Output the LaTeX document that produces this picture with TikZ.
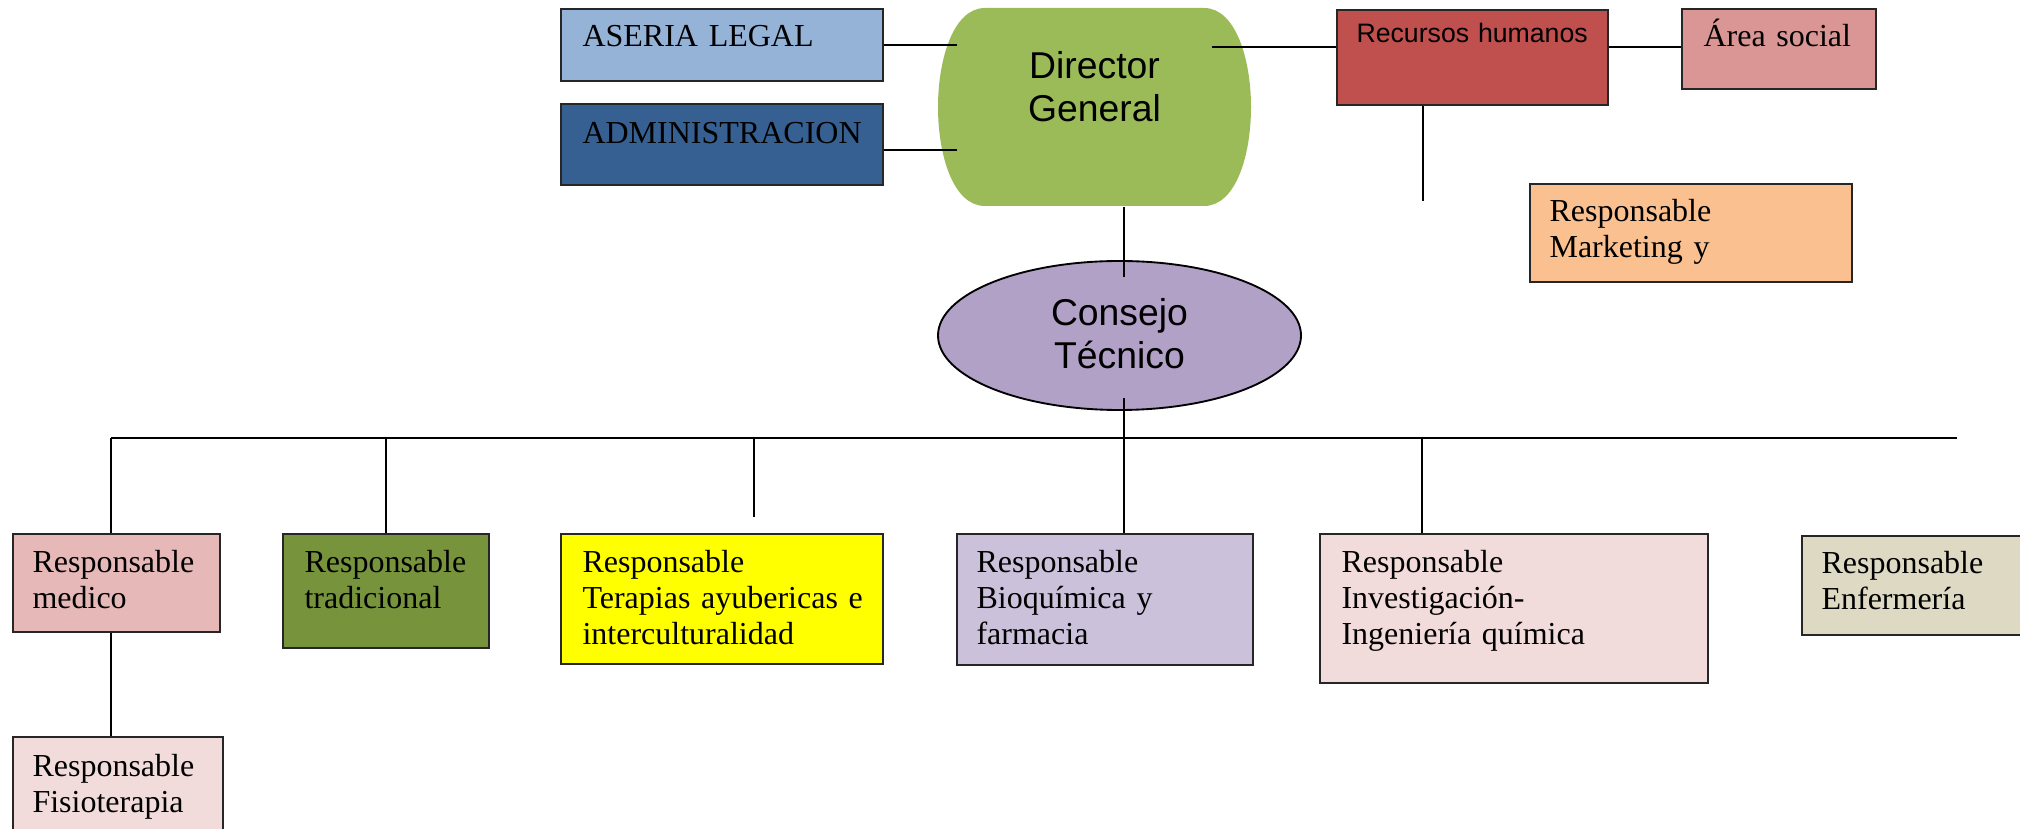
\documentclass[tikz,border=0pt]{standalone}
\usepackage{fontspec}
\setmainfont{Liberation Serif}
\newfontfamily\arialfont{Liberation Sans}
\usetikzlibrary{shapes.geometric,calc}

\newlength{\pxu}
\setlength{\pxu}{0.375pt}

\definecolor{azulclaro}{HTML}{95B3D7}
\definecolor{azuloscuro}{HTML}{366092}
\definecolor{verdedir}{HTML}{9BBB59}
\definecolor{rojorh}{HTML}{C0504D}
\definecolor{rosasocial}{HTML}{D99694}
\definecolor{naranja}{HTML}{FAC090}
\definecolor{lila}{HTML}{B2A1C7}
\definecolor{rosamedico}{HTML}{E6B9B8}
\definecolor{oliva}{HTML}{77933C}
\definecolor{amarillo}{HTML}{FFFF00}
\definecolor{lilaclaro}{HTML}{CCC1DA}
\definecolor{rosaclaro}{HTML}{F2DCDB}
\definecolor{beige}{HTML}{DDD9C3}

\tikzset{
	orgbox/.style={draw=black!85, line width=0.6pt, anchor=north west, inner sep=0},
	boxtext/.style={anchor=base west, inner sep=0, text width=330\pxu, align=left, font=\fontsize{12}{13.5}\selectfont},
	bigtext/.style={anchor=base, inner sep=0, text width=220\pxu, align=center, font=\arialfont\fontsize{14}{16}\selectfont},
	link/.style={line width=0.65pt},
	bar/.style={line width=0.9pt}
}

\begin{document}
\begin{tikzpicture}[x=0.375pt, y=-0.375pt]
		
		\useasboundingbox (0,0) rectangle (2020,829);
		
		% direccion
		\fill[verdedir] (985,8) -- (1204,8) .. controls (1236,8) and (1251,60) .. (1251,107)
			.. controls (1251,155) and (1236,206) .. (1204,206) -- (985,206)
			.. controls (953,206) and (938,155) .. (938,107)
			.. controls (938,60) and (953,8) .. (985,8) -- cycle;
		\node[minimum width=313\pxu, minimum height=198\pxu, inner sep=0] (director) at (1094.5,107) {};
		\node[bigtext] (director-t) at ([yshift=28\pxu]director.center) {Director\\General};
		
		\node[ellipse, draw, line width=0.7pt, fill=lila, minimum width=363\pxu, minimum height=149\pxu, inner sep=0] (consejo) at (1119.5,335.5) {};
		\node[bigtext] (consejo-t) at ([yshift=9.5\pxu]consejo.center) {Consejo\\Técnico};
		
		% staff
		\node[orgbox, fill=azulclaro, minimum width=322\pxu, minimum height=72\pxu] (aseria) at (560,8) {};
		\node[boxtext] (aseria-t) at ([shift={(22,39)}]aseria.north west) {ASERIA LEGAL};
		\node[orgbox, fill=azuloscuro, minimum width=322\pxu, minimum height=81\pxu] (admin) at (560,103) {};
		\node[boxtext] (admin-t) at ([shift={(22,41)}]admin.north west) {ADMINISTRACION};
		
		\node[orgbox, fill=rojorh, minimum width=271\pxu, minimum height=95\pxu] (rh) at (1336,9) {};
		\node[boxtext, font=\arialfont\fontsize{10}{12}\selectfont] (rh-t) at ([shift={(20,34)}]rh.north west) {Recursos humanos};
		\node[orgbox, fill=rosasocial, minimum width=194\pxu, minimum height=80\pxu] (social) at (1681,8) {};
		\node[boxtext] (social-t) at ([shift={(22,39)}]social.north west) {Área social};
		\node[orgbox, fill=naranja, minimum width=322\pxu, minimum height=98\pxu] (market) at (1529,183) {};
		\node[boxtext] (market-t) at ([shift={(20,39)}]market.north west) {Responsable\\Marketing y};
		
		% responsables
		\node[orgbox, fill=rosamedico, minimum width=207\pxu, minimum height=98\pxu] (medico) at (12,533) {};
		\node[boxtext] (medico-t) at ([shift={(20,40)}]medico.north west) {Responsable\\medico};
		\node[orgbox, fill=oliva, minimum width=206\pxu, minimum height=114\pxu] (trad) at (282,533) {};
		\node[boxtext] (trad-t) at ([shift={(22,40)}]trad.north west) {Responsable\\tradicional};
		\node[orgbox, fill=amarillo, minimum width=322\pxu, minimum height=130\pxu] (terap) at (560,533) {};
		\node[boxtext] (terap-t) at ([shift={(22,40)}]terap.north west) {Responsable\\Terapias ayubericas e\\interculturalidad};
		\node[orgbox, fill=lilaclaro, minimum width=296\pxu, minimum height=131\pxu] (bioq) at (956,533) {};
		\node[boxtext] (bioq-t) at ([shift={(20,40)}]bioq.north west) {Responsable\\Bioquímica y\\farmacia};
		\node[orgbox, fill=rosaclaro, minimum width=388\pxu, minimum height=149\pxu] (inv) at (1319,533) {};
		\node[boxtext] (inv-t) at ([shift={(22,40)}]inv.north west) {Responsable\\Investigación-\\Ingeniería química};
		\node[orgbox, fill=beige, minimum width=260\pxu, minimum height=99\pxu] (enf) at (1801,535) {};
		\node[boxtext] (enf-t) at ([shift={(20,39)}]enf.north west) {Responsable\\Enfermería};
		\node[orgbox, fill=rosaclaro, minimum width=210\pxu, minimum height=120\pxu] (fisio) at (12,736) {};
		\node[boxtext] (fisio-t) at ([shift={(20,40)}]fisio.north west) {Responsable\\Fisioterapia};
		
		% lineas
		\coordinate (barL) at (111,438);
		\coordinate (barR) at (1957,438);
		\coordinate (dirL) at (957,107);
		\coordinate (rhstub) at (1423,201);
		\coordinate (terstub) at (754,517);
		\coordinate (invtop) at (1422,533);
		\coordinate (eje) at (1124,335);
		
		\draw[link] (aseria.east) -- (aseria.east -| dirL);
		\draw[link] ([yshift=-6\pxu]admin.east) -- ([yshift=-6\pxu]admin.east -| dirL);
		\draw[link] ([yshift=10\pxu]rh.west -| director.east) ++(-40,0) -- ([yshift=10\pxu]rh.west);
		\draw[link] ([yshift=10\pxu]rh.east) -- ([yshift=10\pxu]rh.east -| social.west);
		\draw[link] (rhstub |- rh.south) -- (rhstub);
		\draw[link] (director.south -| eje) -- ([yshift=-17\pxu]consejo.north -| eje);
		\draw[link] ([yshift=13\pxu]consejo.south -| eje) -- (eje |- bioq.north);
		\draw[bar] (barL) -- (barR);
		\draw[link] (barL) -- (barL |- medico.north);
		\draw[link] (trad.north |- barL) -- (trad.north);
		\draw[link] (terstub |- barL) -- (terstub);
		\draw[link] (invtop |- barL) -- (invtop);
		\draw[link] (barL |- medico.south) -- (barL |- fisio.north);
		
\end{tikzpicture}
\end{document}
